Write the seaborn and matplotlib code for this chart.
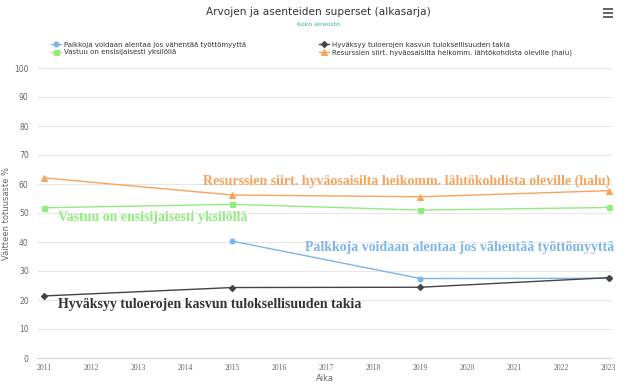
import matplotlib
matplotlib.use("Agg")
import matplotlib.pyplot as plt
import seaborn as sns
import pandas as pd
import numpy as np
from matplotlib.patches import Rectangle

# ---- data ----
years_all = [2011, 2015, 2019, 2023]
years_blue = [2015, 2019, 2023]
palkkoja = [40.3, 27.4, 27.5]          # blue
hyvaksyy = [21.4, 24.3, 24.4, 27.7]    # black
vastuu = [51.8, 53.0, 51.0, 51.9]      # green
resurssit = [62.1, 56.2, 55.6, 57.7]   # orange

names = [
    "Palkkoja voidaan alentaa jos vähentää työttömyyttä",
    "Hyväksyy tuloerojen kasvun tuloksellisuuden takia",
    "Vastuu on ensisijaisesti yksilöllä",
    "Resurssien siirt. hyväosaisilta heikomm. lähtökohdista oleville (halu)",
]
title = "Arvojen ja asenteiden superset (alkasarja)"
subtitle = "Koko aineisto"
xlabel = "Aika"
ylabel = "Väitteen totuusaste %"
xticks = list(range(2011, 2024))
yticks = list(range(0, 101, 10))

colors = ["#7cb5ec", "#434348", "#90ed7d", "#f7a35c"]
markers = ["o", "D", "s", "^"]
msizes = [3.6, 3.2, 3.6, 4.0]

series = [(years_blue, palkkoja), (years_all, hyvaksyy), (years_all, vastuu), (years_all, resurssit)]

sns.set_style("white")
fig = plt.figure(figsize=(6.24, 3.86), dpi=100)
ax = fig.add_axes([37 / 624, 1 - 358 / 386, (612 - 37) / 624, (358 - 68) / 386])

handles = []
for (xs, ys), name, c, m, ms in zip(series, names, colors, markers, msizes):
    df = pd.DataFrame({"x": xs, "y": ys})
    sns.lineplot(data=df, x="x", y="y", ax=ax, color=c, marker=m, markersize=ms,
                 markeredgecolor=c, linewidth=1.0, label=name, legend=False, zorder=3)
    handles.append(ax.lines[-1])

ax.set_xlim(2010.85, 2023.07)
ax.set_ylim(0, 100)
ax.set_xticks(xticks)
ax.set_xticklabels([str(t) for t in xticks], fontsize=5.5, color="#666666", family="Liberation Serif")
ax.set_yticks(yticks)
ax.set_yticklabels([str(t) for t in yticks], fontsize=5.5, color="#666666")
ax.tick_params(axis="y", length=0, pad=6)
ax.tick_params(axis="x", length=3, color="#ccd6eb", width=0.6, pad=1.5)
ax.grid(axis="y", color="#e6e6e6", linewidth=0.7)
for s in ["top", "right", "left"]:
    ax.spines[s].set_visible(False)
ax.spines["bottom"].set_color("#ccd6eb")
ax.spines["bottom"].set_linewidth(0.8)
ax.set_xlabel(xlabel, fontsize=6, color="#666666", labelpad=1)
ax.set_ylabel(ylabel, fontsize=6, color="#666666")
ax.yaxis.set_label_coords(-0.045, 0.5)

# annotations (series names on the chart)
ann_font = dict(family="Liberation Serif", fontweight="bold", fontsize=10)
ax.text(2023.04, resurssit[3] + 3.2, names[3], color="#f7a35c", ha="right", va="center", **ann_font)
ax.text(2011.3, vastuu[0] - 3.5, names[2], color="#90ed7d", ha="left", va="center", **ann_font)
ax.text(2023.12, 38.0, names[0], color="#7cb5ec", ha="right", va="center", **ann_font)
ax.text(2011.3, hyvaksyy[0] - 2.9, names[1], color="#333333", ha="left", va="center", **ann_font)

# title & subtitle
fig.text(0.51, 1 - 12 / 386, title, ha="center", va="center", fontsize=7.6, color="#333333")
fig.text(0.51, 1 - 25 / 386, subtitle, ha="center", va="center", fontsize=4.6, color="#2bb39b")

# legend: order so that rows are (blue, black) / (green, orange) with ncol=2
order = [0, 2, 1, 3]
leg = fig.legend([handles[i] for i in order], [names[i] for i in order], ncol=2,
                 loc="upper left", bbox_to_anchor=(48 / 624, 1 - 39 / 386), frameon=False,
                 fontsize=5.0, handlelength=1.4, columnspacing=10.5, labelspacing=0.2,
                 handletextpad=0.5, borderaxespad=0)
for t in leg.get_texts():
    t.set_color("#333333")

# hamburger menu icon
for i in range(3):
    fig.add_artist(Rectangle((603 / 624, 1 - (10 + 4 * i) / 386), 10 / 624, 2 / 386,
                             transform=fig.transFigure, color="#666666", lw=0))

fig.savefig("out.png", dpi=100)
